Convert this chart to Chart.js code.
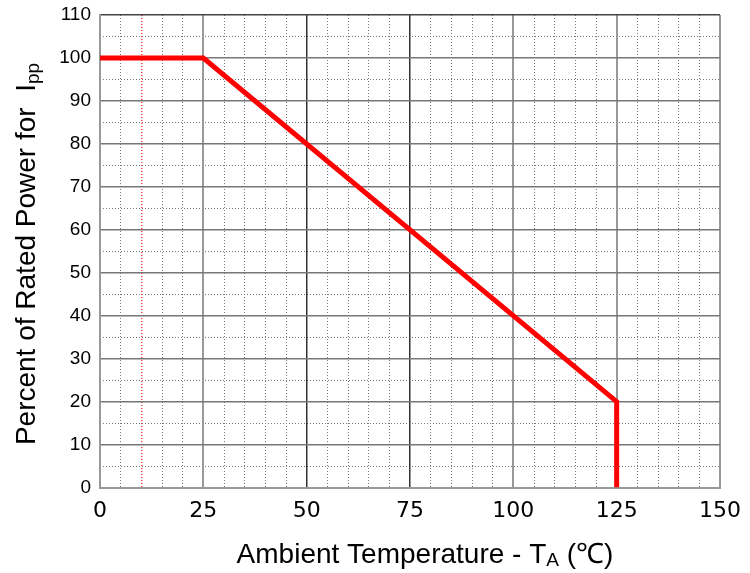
<!DOCTYPE html>
<html>
<head>
<meta charset="utf-8">
<script src="https://cdn.jsdelivr.net/npm/chart.js@4"></script>
<style>
  html, body { margin: 0; padding: 0; background: #fff; }
  #wrap { width: 750px; height: 573px; }
</style>
</head>
<body>
<div id="wrap"><canvas id="derating"></canvas></div>
<script>
// derating curve
const tempC = [0, 25, 125, 125];
const powerPct = [100, 100, 20, 0];
const xTicks = [0, 25, 50, 75, 100, 125, 150];
const yTicks = [0, 10, 20, 30, 40, 50, 60, 70, 80, 90, 100, 110];

const points = tempC.map((t, i) => ({ x: t, y: powerPct[i] }));

// axis titles with subscripts, drawn as text
const titlePlugin = {
  id: 'titles',
  afterDraw(chart) {
    const ctx = chart.ctx;
    ctx.save();
    ctx.fillStyle = '#000';
    ctx.textBaseline = 'alphabetic';
    ctx.textAlign = 'left';

    const big = '28px "Liberation Sans", Arial, sans-serif';
    const small = '19px "Liberation Sans", Arial, sans-serif';

    // x title
    const p1 = 'Ambient Temperature - T', p2 = 'A', p3 = ' (\u2103)';
    ctx.font = big; const w1 = ctx.measureText(p1).width, w3 = ctx.measureText(p3).width;
    ctx.font = small; const w2 = ctx.measureText(p2).width;
    let x = 425 - (w1 + w2 + w3) / 2;
    const y = 563;
    ctx.font = big; ctx.fillText(p1, x, y); x += w1;
    ctx.font = small; ctx.fillText(p2, x, y + 3); x += w2;
    ctx.font = big; ctx.fillText(p3, x, y);

    // y title
    ctx.translate(35, 254);
    ctx.rotate(-Math.PI / 2);
    const q1 = 'Percent of Rated Power for  I', q2 = 'pp';
    ctx.font = big; const v1 = ctx.measureText(q1).width;
    ctx.font = small; const v2 = ctx.measureText(q2).width;
    let sx = -(v1 + v2) / 2;
    ctx.font = big; ctx.fillText(q1, sx, 0); sx += v1;
    ctx.font = small; ctx.fillText(q2, sx, 4);
    ctx.restore();
  }
};

new Chart(document.getElementById('derating'), {
  type: 'line',
  data: {
    datasets: [{
      data: points,
      borderColor: '#ff0000',
      borderWidth: 5,
      pointRadius: 0,
      tension: 0,
      fill: false
    }]
  },
  options: {
    responsive: true,
    maintainAspectRatio: false,
    animation: false,
    layout: { padding: { left: 0, right: 30, top: 15, bottom: 0 } },
    plugins: { legend: { display: false }, tooltip: { enabled: false } },
    scales: {
      xMinor: {
        type: 'linear', position: 'bottom', min: 0, max: 150,
        ticks: { display: false, stepSize: 5 },
        border: { display: false, dash: [1, 2] },
        grid: {
          drawTicks: false,
          lineWidth: c => (c.tick.value === 10 ? 1.5 : 1),
          color: c => {
            const v = c.tick.value;
            if (v % 25 === 0) return 'rgba(0,0,0,0)';
            if (v === 10) return '#ff4040';
            return '#777';
          }
        },
        afterFit: s => { s.height = 0; s.paddingLeft = 0; s.paddingRight = 0; }
      },
      yMinor: {
        type: 'linear', position: 'left', min: 0, max: 110,
        ticks: { display: false, stepSize: 5 },
        border: { display: false, dash: [1, 2] },
        grid: {
          drawTicks: false,
          lineWidth: 1,
          color: c => (c.tick.value % 10 === 0 ? 'rgba(0,0,0,0)' : '#777')
        },
        afterFit: s => { s.width = 0; s.paddingTop = 0; s.paddingBottom = 0; }
      },
      x: {
        type: 'linear', position: 'bottom', min: 0, max: 150,
        afterBuildTicks: s => { s.ticks = xTicks.map(v => ({ value: v })); },
        ticks: {
          color: '#000',
          padding: 11,
          font: { family: '"DejaVu Sans", Verdana, sans-serif', size: 22 },
          maxRotation: 0
        },
        border: { color: '#999', width: 2 },
        grid: {
          drawTicks: false,
          lineWidth: c => (c.tick.value === 50 || c.tick.value === 75 ? 1.5 : 2),
          color: c => (c.tick.value === 50 || c.tick.value === 75 ? '#333' : '#999')
        },
        afterFit: s => { s.height = 85.5; s.paddingLeft = 0; s.paddingRight = 0; }
      },
      y: {
        type: 'linear', position: 'left', min: 0, max: 110,
        afterBuildTicks: s => { s.ticks = yTicks.map(v => ({ value: v })); },
        ticks: {
          color: '#000',
          padding: 9,
          font: { family: '"Liberation Sans", Arial, sans-serif', size: 19 }
        },
        border: { color: '#999', width: 2 },
        grid: {
          drawTicks: false,
          lineWidth: 1.5,
          color: c => (c.tick.value === 110 ? '#444' : '#777')
        },
        afterFit: s => { s.width = 100; s.paddingTop = 0; s.paddingBottom = 0; }
      }
    }
  },
  plugins: [titlePlugin]
});
</script>
</body>
</html>
